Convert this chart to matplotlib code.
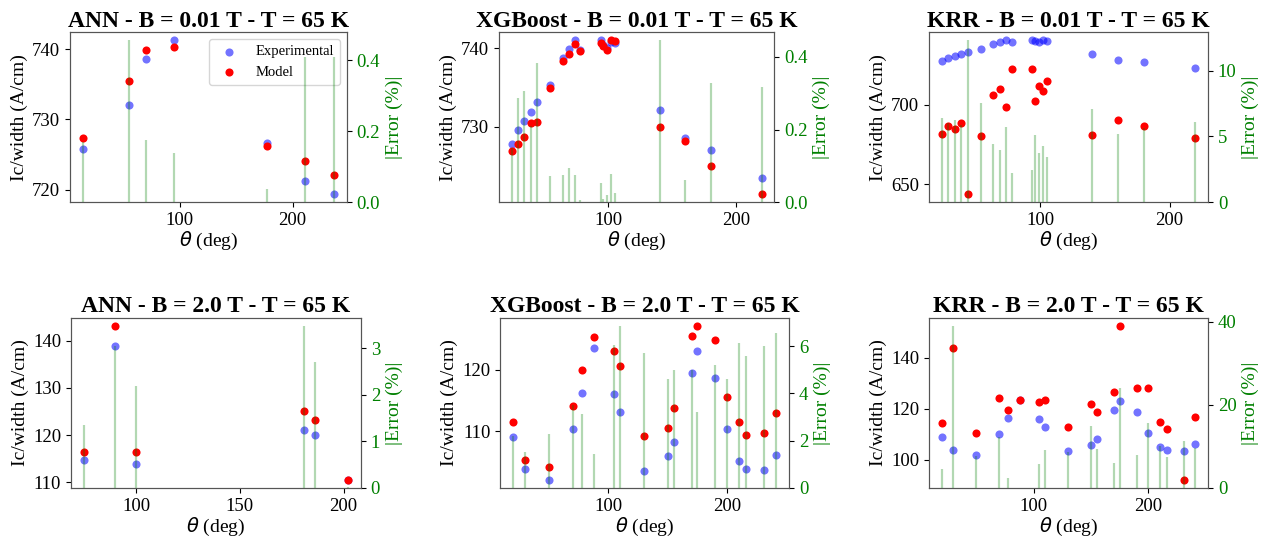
import numpy as np
import matplotlib.pyplot as plt
from matplotlib.ticker import MultipleLocator

plt.rcParams['font.family'] = ['Liberation Serif', 'DejaVu Serif']
plt.rcParams['mathtext.fontset'] = 'dejavusans'

# ANN, B = 0.01 T
theta_ann1 = [14, 55, 70, 95, 177, 211, 237]
exp_ann1 = [725.7, 732.1, 738.6, 741.3, 726.6, 721.2, 719.3]
mod_ann1 = [727.3, 735.4, 739.9, 740.3, 726.2, 724.0, 722.1]
err_ann1 = [0.17, 0.457, 0.176, 0.138, 0.038, 0.41, 0.41]

# XGBoost / KRR, B = 0.01 T (same test angles)
theta_b1 = [24, 29, 34, 39, 44, 54, 64, 69, 74, 78, 94, 96, 99, 102, 105, 140, 160, 180, 220]
exp_b1 = [727.8, 729.6, 730.7, 731.9, 733.2, 735.3, 738.8, 739.9, 741.1, 739.8, 741.1, 740.5,
          740.0, 740.8, 740.7, 732.1, 728.5, 727.0, 723.4]
mod_xgb1 = [726.9, 727.8, 728.7, 730.4, 730.6, 734.9, 738.4, 739.3, 740.6, 739.7, 740.7, 740.3,
            739.8, 741.1, 741.0, 730.0, 728.2, 724.9, 721.3]
err_xgb1 = [0.15, 0.286, 0.306, 0.21, 0.384, 0.071, 0.075, 0.094, 0.076, 0.005, 0.054, 0.01,
            0.02, 0.077, 0.025, 0.446, 0.06, 0.327, 0.316]
mod_krr1 = [681.6, 687.0, 684.9, 688.9, 643.5, 680.1, 706.3, 710.3, 699.0, 722.6, 722.6, 702.3,
            712.1, 709.0, 715.3, 680.8, 690.6, 687.0, 679.3]
err_krr1 = [6.36, 6.0, 6.23, 5.85, 12.3, 7.56, 4.4, 4.0, 5.7, 2.2, 2.47, 5.1,
            3.7, 4.25, 3.4, 7.1, 5.17, 5.6, 6.1]

# ANN, B = 2.0 T
theta_ann2 = [75, 90, 100, 181, 186, 202]
exp_ann2 = [114.7, 138.9, 113.9, 121.0, 120.0, 110.4]
mod_ann2 = [116.3, 143.2, 116.3, 125.1, 123.1, 110.4]
err_ann2 = [1.35, 3.05, 2.2, 3.48, 2.7, 0.03]

# XGBoost / KRR, B = 2.0 T
theta_b2 = [20, 30, 50, 70, 78, 88, 105, 110, 130, 150, 155, 170, 175, 190, 200, 210, 216, 231, 241]
exp_b2 = [109.1, 103.8, 102.0, 110.3, 116.3, 123.5, 116.1, 113.1, 103.5, 106.0, 108.2, 119.5,
          123.0, 118.7, 110.4, 105.1, 103.8, 103.6, 106.1]
mod_xgb2 = [111.5, 105.3, 104.2, 114.1, 120.0, 125.3, 123.0, 120.7, 109.2, 110.5, 113.7, 125.5,
            127.2, 124.9, 115.6, 111.5, 109.3, 109.7, 113.0]
err_xgb2 = [2.2, 1.53, 2.27, 3.5, 3.12, 1.42, 6.04, 6.85, 5.69, 4.6, 5.0, 5.0,
            3.23, 5.19, 4.62, 6.14, 5.6, 6.0, 6.57]
mod_krr2 = [114.6, 143.9, 110.7, 124.4, 119.4, 123.6, 122.7, 123.3, 112.9, 121.8, 118.8, 126.5,
            152.6, 128.3, 128.0, 114.9, 112.0, 92.05, 116.8]
err_krr2 = [4.66, 39.0, 7.8, 12.3, 2.4, 0.1, 5.7, 9.2, 8.7, 14.9, 9.5, 5.9,
            24.2, 7.9, 15.6, 10.0, 7.5, 11.3, 9.6]

fig = plt.figure(figsize=(12.65, 5.45), dpi=100)


def panel(rect, title, theta, exp, mod, err, steps, legend=False):
    xstep, ystep, estep = steps
    ax = fig.add_axes(rect)
    ax.scatter(theta, exp, s=34, color='blue', alpha=0.55, linewidths=0, label='Experimental')
    ax.scatter(theta, mod, s=34, color='red', linewidths=0, label='Model')
    ax.set_title(title, fontsize=17, fontweight='bold', pad=4)
    ax.set_xlabel(r'$\theta$ (deg)', fontsize=14, labelpad=1)
    ax.set_ylabel('Ic/width (A/cm)', fontsize=14, labelpad=3)
    ax.xaxis.set_major_locator(MultipleLocator(xstep))
    ax.yaxis.set_major_locator(MultipleLocator(ystep))
    ax.tick_params(labelsize=13.5)
    for s in ax.spines.values():
        s.set_color('#555555')
    if legend:
        ax.legend(loc='upper right', fontsize=10.5, borderaxespad=0.5)

    ax2 = ax.twinx()
    ax2.vlines(theta, 0, err, color='green', alpha=0.3, linewidth=1.6)
    ax2.set_ylim(0, max(err) * 1.05)
    ax2.yaxis.set_major_locator(MultipleLocator(estep))
    ax2.set_ylabel('|Error (%)|', color='green', fontsize=14)
    ax2.tick_params(axis='y', labelcolor='green', labelsize=13.5)
    for s in ax2.spines.values():
        s.set_color('#555555')
    return ax, ax2


panel([0.0553, 0.629, 0.219, 0.312], 'ANN - B = 0.01 T - T = 65 K',
      theta_ann1, exp_ann1, mod_ann1, err_ann1, (100, 10, 0.2), legend=True)
panel([0.3945, 0.629, 0.2174, 0.312], 'XGBoost - B = 0.01 T - T = 65 K',
      theta_b1, exp_b1, mod_xgb1, err_xgb1, (100, 10, 0.2))
panel([0.7344, 0.629, 0.2206, 0.312], 'KRR - B = 0.01 T - T = 65 K',
      theta_b1, exp_b1, mod_krr1, err_krr1, (100, 50, 5))

panel([0.0561, 0.1046, 0.2292, 0.312], 'ANN - B = 2.0 T - T = 65 K',
      theta_ann2, exp_ann2, mod_ann2, err_ann2, (50, 10, 1))
panel([0.3953, 0.1046, 0.2285, 0.312], 'XGBoost - B = 2.0 T - T = 65 K',
      theta_b2, exp_b2, mod_xgb2, err_xgb2, (100, 10, 2))
panel([0.7344, 0.1046, 0.2206, 0.312], 'KRR - B = 2.0 T - T = 65 K',
      theta_b2, exp_b2, mod_krr2, err_krr2, (100, 20, 20))

plt.savefig('out.png', dpi=100)
